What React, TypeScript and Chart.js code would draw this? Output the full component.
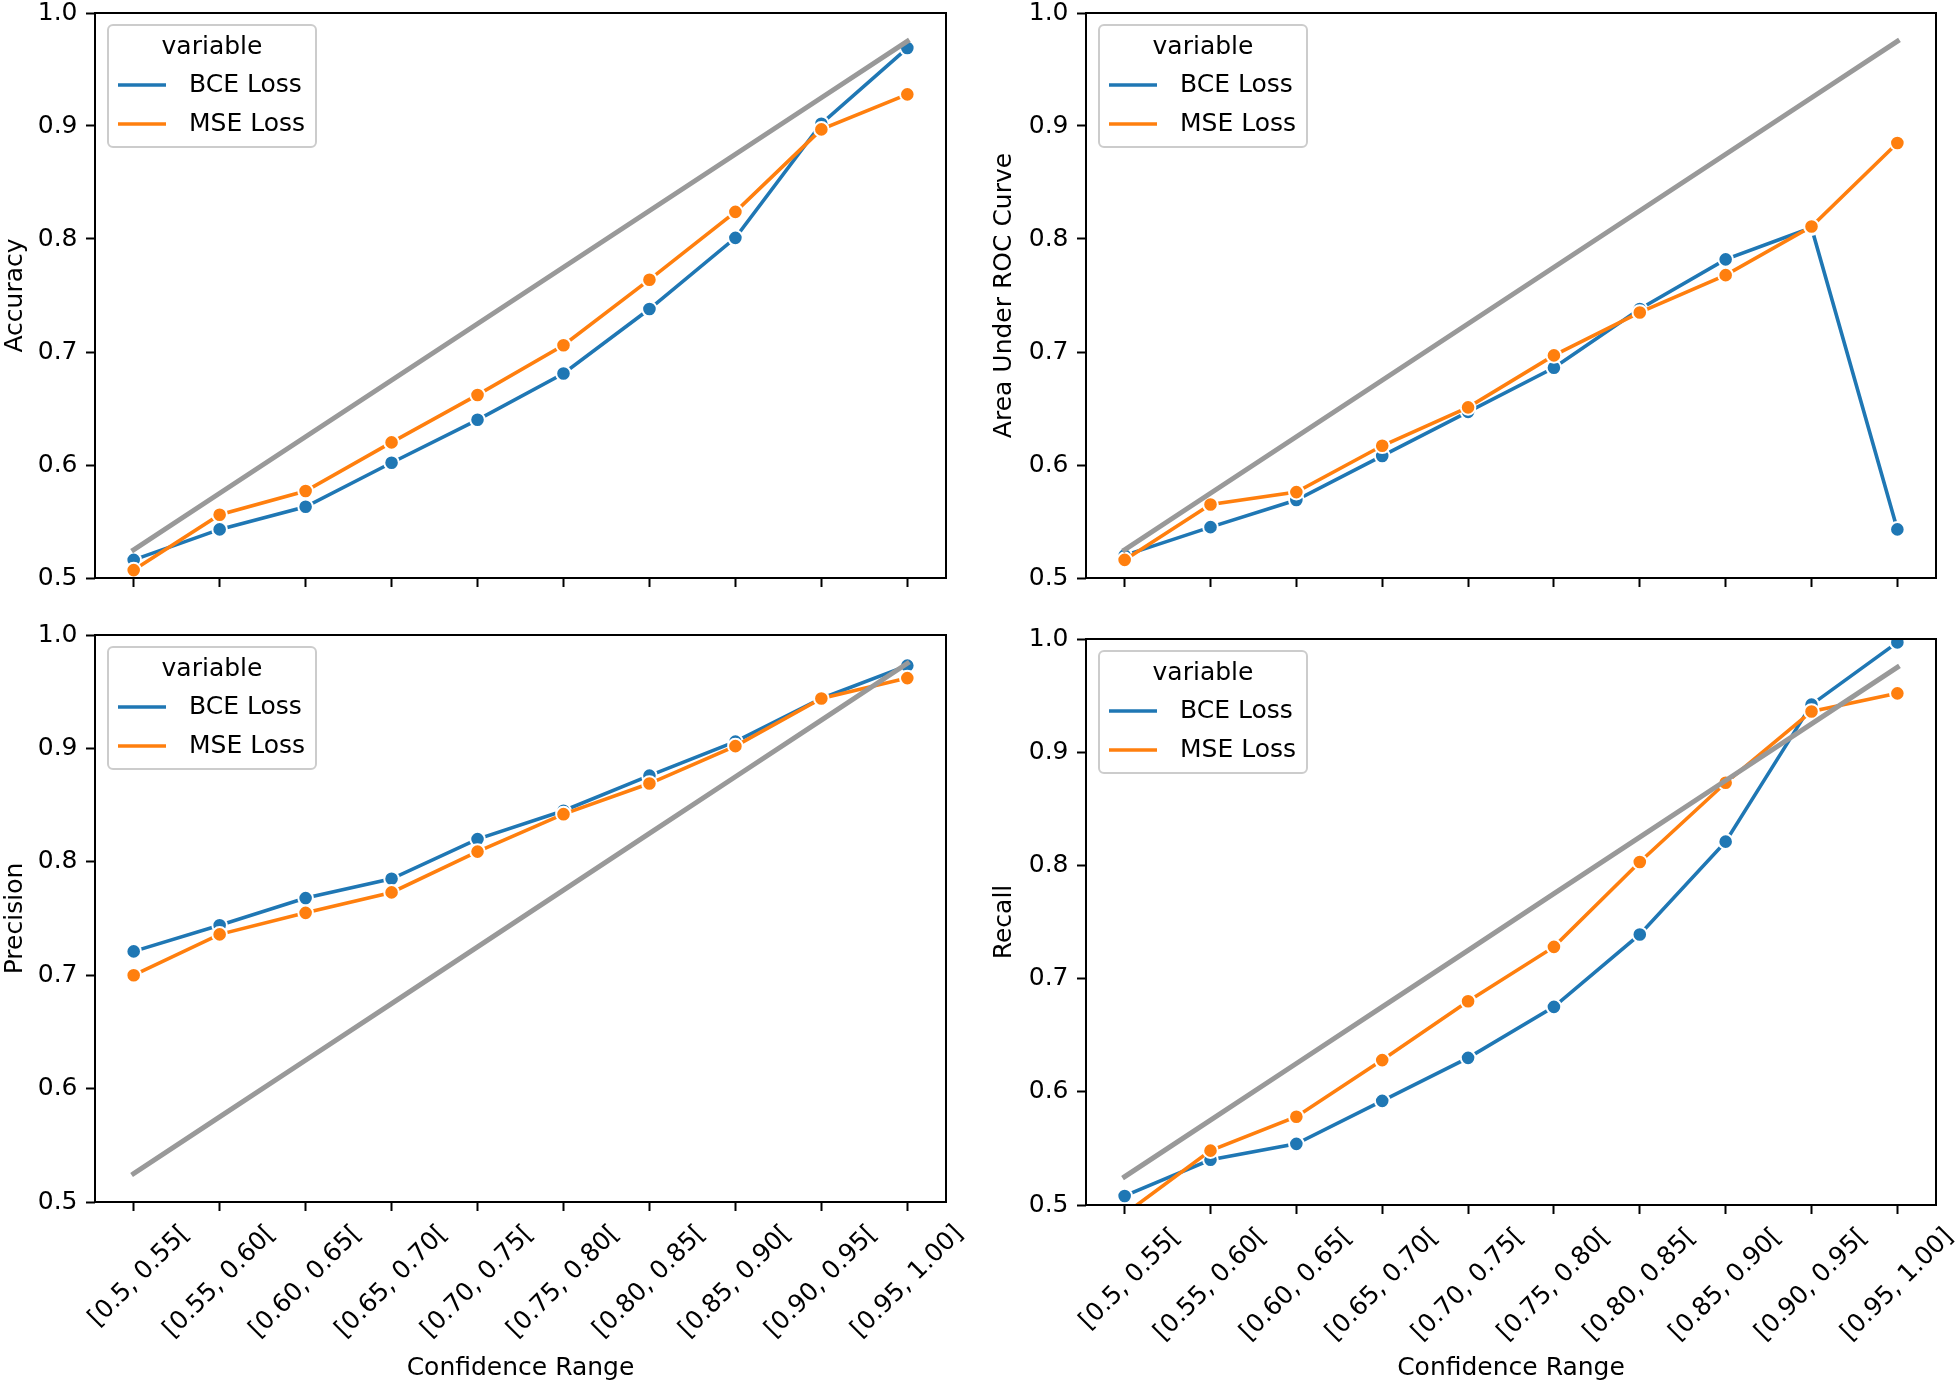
import React, { useEffect, useRef } from "react";
import { Chart, registerables } from "chart.js";

Chart.register(...registerables);

// ---------------- data ----------------
const categories = [
  "[0.5, 0.55[",
  "[0.55, 0.60[",
  "[0.60, 0.65[",
  "[0.65, 0.70[",
  "[0.70, 0.75[",
  "[0.75, 0.80[",
  "[0.80, 0.85[",
  "[0.85, 0.90[",
  "[0.90, 0.95[",
  "[0.95, 1.00]",
];
const diagonal = [0.525, 0.575, 0.625, 0.675, 0.725, 0.775, 0.825, 0.875, 0.925, 0.975];
const seriesNames = ["BCE Loss", "MSE Loss"];
const legendTitle = "variable";
const xAxisTitle = "Confidence Range";
const yTickValues = [0.5, 0.6, 0.7, 0.8, 0.9, 1.0];

const accuracyBCE = [0.516, 0.543, 0.563, 0.602, 0.640, 0.681, 0.738, 0.801, 0.902, 0.969];
const accuracyMSE = [0.507, 0.556, 0.577, 0.620, 0.662, 0.706, 0.764, 0.824, 0.897, 0.928];
const aucBCE = [0.520, 0.545, 0.569, 0.608, 0.647, 0.686, 0.738, 0.782, 0.810, 0.543];
const aucMSE = [0.516, 0.565, 0.576, 0.617, 0.651, 0.697, 0.735, 0.768, 0.811, 0.885];
const precisionBCE = [0.721, 0.744, 0.768, 0.785, 0.820, 0.845, 0.876, 0.906, 0.944, 0.973];
const precisionMSE = [0.700, 0.736, 0.755, 0.773, 0.809, 0.842, 0.869, 0.902, 0.944, 0.962];
const recallBCE = [0.508, 0.540, 0.554, 0.592, 0.630, 0.675, 0.739, 0.821, 0.942, 0.997];
const recallMSE = [0.492, 0.548, 0.578, 0.628, 0.680, 0.728, 0.803, 0.873, 0.936, 0.952];

// ---------------- styles ----------------
const BLUE = "#1f77b4";
const ORANGE = "#ff7f0e";
const GRAY = "#999999";
const FONT = "DejaVu Sans";
const TEXT_SIZE = 25;
const TICK_LEN = 9;
const TICK_PAD = 8.5;
const SPINE_W = 2;
const LINE_W = 3.6;
const MARKER_R = 7.3;
const MARKER_EDGE = 2;

type Panel = {
  yTitle: string;
  bce: number[];
  mse: number[];
  box: { left: number; top: number; w: number; h: number };
  area: { left: number; top: number; right: number; bottom: number };
  xLabels: boolean;
  yTitlePad: number;
};

const panels: Panel[] = [
  {
    yTitle: "Accuracy",
    bce: accuracyBCE,
    mse: accuracyMSE,
    box: { left: 0, top: 0, w: 980, h: 610 },
    area: { left: 95, top: 13, right: 946, bottom: 578 },
    xLabels: false,
    yTitlePad: 0,
  },
  {
    yTitle: "Area Under ROC Curve",
    bce: aucBCE,
    mse: aucMSE,
    box: { left: 980, top: 0, w: 979, h: 610 },
    area: { left: 1086, top: 13, right: 1936, bottom: 578 },
    xLabels: false,
    yTitlePad: 9,
  },
  {
    yTitle: "Precision",
    bce: precisionBCE,
    mse: precisionMSE,
    box: { left: 0, top: 610, w: 980, h: 780 },
    area: { left: 95, top: 635, right: 946, bottom: 1202 },
    xLabels: true,
    yTitlePad: 0,
  },
  {
    yTitle: "Recall",
    bce: recallBCE,
    mse: recallMSE,
    box: { left: 980, top: 610, w: 979, h: 780 },
    area: { left: 1086, top: 639, right: 1936, bottom: 1205 },
    xLabels: true,
    yTitlePad: 9,
  },
];

const legendLayout = {
  dx: 13,
  dy: 12,
  w: 208,
  h: 122,
  r: 5,
  titleDy: 22,
  rowDy: [60, 99],
  handleX0: 10,
  handleX1: 58,
  textX: 81,
};

const framePlugin = {
  id: "mplFrame",
  afterDatasetsDraw(chart: any) {
    const { ctx, chartArea: ca } = chart;
    ctx.save();
    ctx.strokeStyle = "#000";
    ctx.lineWidth = SPINE_W;
    ctx.strokeRect(ca.left, ca.top, ca.right - ca.left, ca.bottom - ca.top);
    ctx.restore();
  },
};

const legendPlugin = {
  id: "mplLegend",
  afterDraw(chart: any) {
    const { ctx, chartArea: ca } = chart;
    const L = legendLayout;
    const x = ca.left + L.dx;
    const y = ca.top + L.dy;
    ctx.save();
    ctx.beginPath();
    ctx.roundRect(x, y, L.w, L.h, L.r);
    ctx.fillStyle = "rgba(255,255,255,0.8)";
    ctx.fill();
    ctx.strokeStyle = "#cccccc";
    ctx.lineWidth = 2;
    ctx.stroke();
    ctx.font = `${TEXT_SIZE}px "${FONT}"`;
    ctx.fillStyle = "#000";
    ctx.textBaseline = "middle";
    ctx.textAlign = "center";
    ctx.fillText(legendTitle, x + L.w / 2, y + L.titleDy);
    const items = chart.data.datasets
      .filter((d: any) => d.inLegend)
      .sort((a: any, b: any) => a.legendIndex - b.legendIndex);
    items.forEach((d: any, i: number) => {
      const cy = y + L.rowDy[i];
      ctx.strokeStyle = d.borderColor;
      ctx.lineWidth = d.borderWidth;
      ctx.beginPath();
      ctx.moveTo(x + L.handleX0, cy);
      ctx.lineTo(x + L.handleX1, cy);
      ctx.stroke();
      ctx.textAlign = "left";
      ctx.fillStyle = "#000";
      ctx.fillText(d.label, x + L.textX, cy);
    });
    ctx.restore();
  },
};

function toXY(values: number[]) {
  return values.map((v, i) => ({ x: i, y: v }));
}

function seriesDataset(label: string, values: number[], color: string, legendIndex: number) {
  return {
    label,
    data: toXY(values),
    borderColor: color,
    backgroundColor: color,
    borderWidth: LINE_W,
    pointRadius: MARKER_R,
    pointBackgroundColor: color,
    pointBorderColor: "#ffffff",
    pointBorderWidth: MARKER_EDGE,
    clip: 0,
    inLegend: true,
    legendIndex,
  } as any;
}

function PanelChart({ p }: { p: Panel }) {
  const ref = useRef<HTMLCanvasElement>(null);
  useEffect(() => {
    if (!ref.current) return;
    const yAxisWidth = p.area.left - p.box.left;
    const xAxisHeight = p.box.top + p.box.h - p.area.bottom;
    const mctx = ref.current.getContext("2d")!;
    mctx.font = `${TEXT_SIZE}px "${FONT}"`;
    const labelW = mctx.measureText(categories[1]).width;
    const chart = new Chart(ref.current, {
      type: "line",
      data: {
        datasets: [
          {
            label: "diagonal",
            data: toXY(diagonal),
            borderColor: GRAY,
            borderWidth: 5,
            borderCapStyle: "square",
            pointRadius: 0,
            clip: 0,
            inLegend: false,
          } as any,
          seriesDataset(seriesNames[1], p.mse, ORANGE, 1),
          seriesDataset(seriesNames[0], p.bce, BLUE, 0),
        ],
      },
      options: {
        animation: false,
        responsive: false,
        maintainAspectRatio: false,
        layout: {
          autoPadding: false,
          padding: {
            top: p.area.top - p.box.top,
            right: p.box.left + p.box.w - p.area.right,
            left: 0,
            bottom: 0,
          },
        },
        plugins: {
          legend: { display: false },
          tooltip: { enabled: false },
        },
        scales: {
          x: {
            type: "linear",
            min: -0.45,
            max: 9.45,
            afterBuildTicks: (s: any) => {
              s.ticks = categories.map((_, i) => ({ value: i }));
            },
            afterFit: (s: any) => {
              s.height = xAxisHeight;
              s.paddingLeft = 0;
              s.paddingRight = 0;
              s.paddingTop = 0;
              s.paddingBottom = 0;
            },
            border: { display: false },
            grid: {
              drawOnChartArea: false,
              drawTicks: true,
              tickLength: TICK_LEN,
              tickWidth: SPINE_W,
              tickColor: "#000",
            },
            ticks: {
              display: p.xLabels,
              autoSkip: false,
              maxRotation: 45,
              minRotation: 45,
              labelOffset: Math.round(labelW * 0.3536),
              padding: TICK_PAD,
              color: "#000",
              font: { family: FONT, size: TEXT_SIZE },
              callback: (v: any) => categories[Math.round(Number(v))] ?? "",
            },
            title: {
              display: p.xLabels,
              text: xAxisTitle,
              color: "#000",
              font: { family: FONT, size: TEXT_SIZE },
              padding: { top: 0, bottom: 7 },
            },
          },
          y: {
            type: "linear",
            min: 0.5,
            max: 1.0,
            afterBuildTicks: (s: any) => {
              s.ticks = yTickValues.map((v) => ({ value: v }));
            },
            afterFit: (s: any) => {
              s.width = yAxisWidth;
              s.paddingLeft = 0;
              s.paddingRight = 0;
              s.paddingTop = 0;
              s.paddingBottom = 0;
            },
            border: { display: false },
            grid: {
              drawOnChartArea: false,
              drawTicks: true,
              tickLength: TICK_LEN,
              tickWidth: SPINE_W,
              tickColor: "#000",
            },
            ticks: {
              padding: TICK_PAD,
              color: "#000",
              font: { family: FONT, size: TEXT_SIZE },
              callback: (v: any) => Number(v).toFixed(1),
            },
            title: {
              display: true,
              text: p.yTitle,
              color: "#000",
              font: { family: FONT, size: TEXT_SIZE },
              padding: { top: p.yTitlePad, bottom: 0 },
            },
          },
        },
      } as any,
      plugins: [framePlugin, legendPlugin],
    });
    return () => chart.destroy();
  }, [p]);
  return (
    <div
      style={{
        position: "absolute",
        left: p.box.left,
        top: p.box.top,
        width: p.box.w,
        height: p.box.h,
      }}
    >
      <canvas
        ref={ref}
        width={p.box.w}
        height={p.box.h}
        style={{ display: "block", width: p.box.w, height: p.box.h }}
      />
    </div>
  );
}

export default function App() {
  return (
    <div
      style={{
        position: "absolute",
        left: 0,
        top: 0,
        width: 1959,
        height: 1390,
        background: "#ffffff",
        overflow: "hidden",
      }}
    >
      {panels.map((p, i) => (
        <PanelChart key={i} p={p} />
      ))}
    </div>
  );
}
